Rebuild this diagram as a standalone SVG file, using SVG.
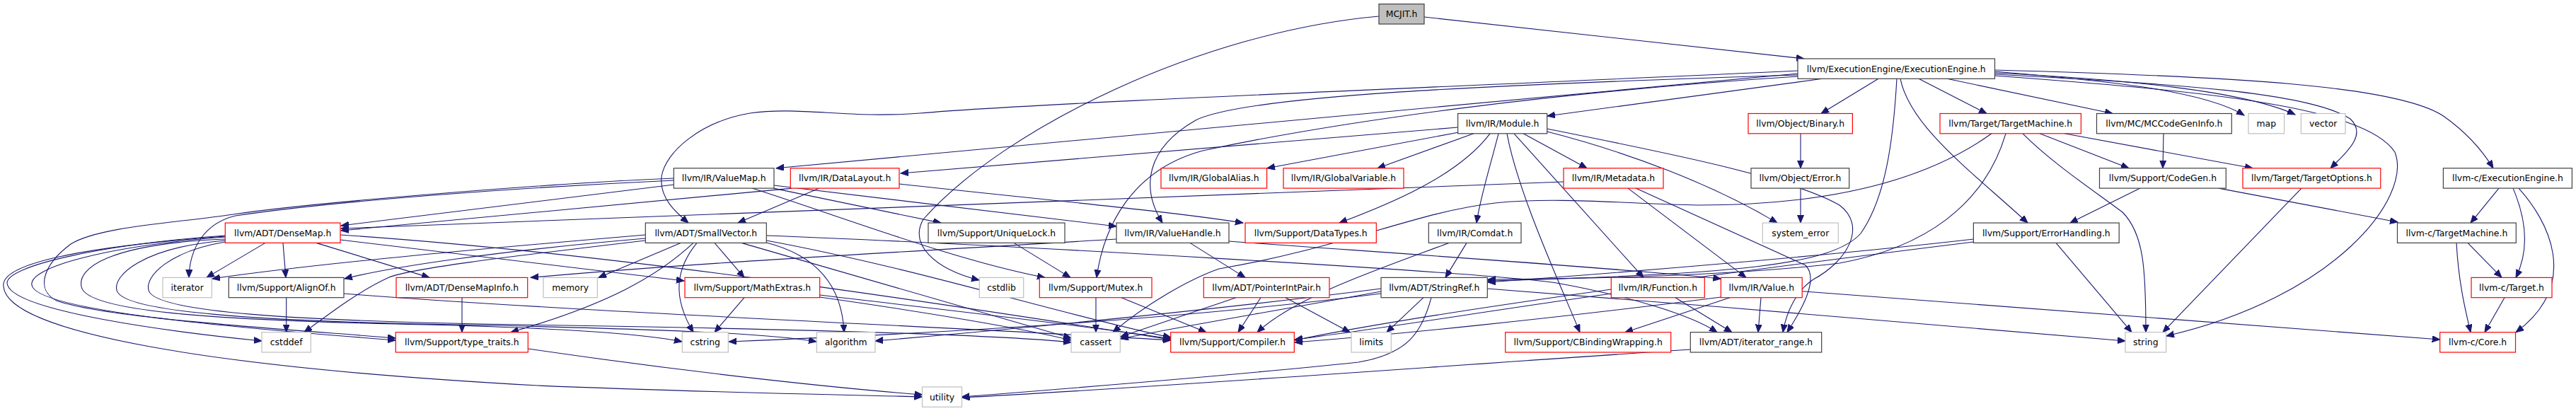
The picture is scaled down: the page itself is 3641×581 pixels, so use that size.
<svg xmlns="http://www.w3.org/2000/svg" width="3641" height="581" viewBox="0 0 3641 581">
<style>
rect{fill:#fff;stroke:#404040;stroke-width:1.2}
.r rect{stroke:#ff0000}
.g rect{stroke:#bfbfbf}
.root rect{fill:#bfbfbf}
text{font-family:"DejaVu Sans",sans-serif;font-size:12.4px;text-anchor:middle;fill:#000}
#edges path{fill:none;stroke:#191970;stroke-width:1.1;marker-end:url(#a)}
</style>
<defs>
<marker id="a" markerUnits="userSpaceOnUse" markerWidth="12" markerHeight="10" refX="11" refY="4.5" orient="auto"><path d="M0,0 L11,4.5 L0,9 z" fill="#191970" stroke="#191970" stroke-width="1"/></marker>
</defs>
<rect x="0" y="0" width="3641" height="581" style="fill:#fff;stroke:none"/>
<g id="edges">
<path d="M2013,24 L2550,83"/>
<path d="M1949,23 C1700,45 1420,180 1305,310 C1285,345 1320,380 1384,396"/>
<path d="M2541,104 L1097,237.8"/>
<path d="M2541,100 C2000,125 1480,145 1300,160 C1200,168 1130,150 1060,160 C990,172 940,215 935,250 C932,280 955,300 973,315.1"/>
<path d="M2576,111.3 L2187,164"/>
<path d="M2541,106 C2100,120 1760,135 1690,170 C1620,210 1612,265 1643,315.1"/>
<path d="M2541,108 C2200,130 1900,170 1700,213 C1600,240 1560,320 1550,392.4"/>
<path d="M2655,111.3 L2574,160.5"/>
<path d="M2712,111.3 L2808,160.5"/>
<path d="M2752,111.3 L2986,160.5"/>
<path d="M2819.5,101 C2950,112 3110,125 3172,163"/>
<path d="M2819.5,103 C3000,112 3170,128 3244,162"/>
<path d="M2819.5,105 C3050,118 3260,128 3322,168 C3345,190 3320,212 3294,237.8"/>
<path d="M2819.5,99 C3150,108 3390,120 3455,165 C3490,190 3510,215 3524,237.8"/>
<path d="M2819.5,107 C3100,128 3340,148 3385,215 C3410,280 3300,420 3062,475"/>
<path d="M2686,111.3 C2700,180 2790,245 2866,315.1"/>
<path d="M2681,111.3 C2676,200 2665,280 2630,330 C2590,375 2450,388 2103,397"/>
<path d="M2060.6,180 L1273,245"/>
<path d="M2062,187 L1791,237.8"/>
<path d="M2083,188.8 L1947,237.8"/>
<path d="M2153,188.8 L2243,237.8"/>
<path d="M2106,188.8 C2060,250 1960,290 1893,315.1"/>
<path d="M2118,188.8 C2105,240 2092,280 2087,315.1"/>
<path d="M2130,188.8 C2145,270 2200,390 2233,469.7"/>
<path d="M2140,188.8 L2323,392.4"/>
<path d="M2186.7,186 C2300,215 2420,260 2512,315.1"/>
<path d="M2186.7,182 C2350,215 2530,250 2600,290 C2640,320 2610,370 2563,395 C2540,410 2525,440 2520,469.7"/>
<path d="M2210,257 L482,323"/>
<path d="M2301,266.1 L2468,392.4"/>
<path d="M2312,266.1 L2552,375 C2572,395 2545,440 2526,469.7"/>
<path d="M952.3,261 L482,319"/>
<path d="M952.3,255 C800,262 500,280 333,305 C290,315 268,350 267,392.4"/>
<path d="M952.3,252 C800,258 450,285 330,303 C250,315 140,320 100,345 C60,375 50,410 80,425 C150,450 400,465 559,478"/>
<path d="M1063,266.1 C1200,310 1350,368 1477,392.4"/>
<path d="M1093,266.1 L1330,315.1"/>
<path d="M1094,262 C1300,288 1450,305 1578,320"/>
<path d="M1120,266.1 L482,326"/>
<path d="M1158,266.1 L1043,315.1"/>
<path d="M1271,260 C1450,280 1650,298 1757,315.1"/>
<path d="M2545,188.8 L2545,237.8"/>
<path d="M2883,188.8 L3009,237.8"/>
<path d="M2918,188.8 L3184,237.8"/>
<path d="M2859,188.8 C2900,230 2960,270 3000,300 C3030,330 3033,380 3033,469.7"/>
<path d="M2835,188.8 C2805,290 2720,350 2600,372 C2450,390 2250,394 2103,395"/>
<path d="M2815,188.8 C2730,250 2600,290 2400,290 C2300,288 2200,278 2113,287 C2000,300 1900,350 1723,380 C1680,395 1620,430 1573,469.7"/>
<path d="M3058,188.8 L3057,237.8"/>
<path d="M2545,266.1 L2545,315.1"/>
<path d="M3025,266.1 L2926,315.1"/>
<path d="M3136,266.1 L3389,314"/>
<path d="M3253,266.1 L3057,469.7"/>
<path d="M3532,266.1 L3492,315.1"/>
<path d="M3552,266.1 C3575,320 3572,360 3556,392.4"/>
<path d="M3560,266.1 C3600,310 3650,400 3556,469.7"/>
<path d="M3488,343.4 L3536,392.4"/>
<path d="M3472,343.4 C3475,400 3485,440 3492,469.7"/>
<path d="M3540,420.7 L3512,469.7"/>
<path d="M375,343.4 L292,392.4"/>
<path d="M400,343.4 L404,392.4"/>
<path d="M447,343.4 L607,392.4"/>
<path d="M481,339 L967,397"/>
<path d="M481,332 C900,360 1400,440 1655,480"/>
<path d="M318.3,333 C150,345 10,375 10,400 C12,440 250,470 370,482"/>
<path d="M318.3,335 C150,348 40,378 45,403 C50,440 350,465 559,481"/>
<path d="M318.3,338 C150,345 110,380 115,405 C120,440 300,452 560,458 C750,462 900,470 964,483"/>
<path d="M318.3,340 C200,350 160,390 165,410 C170,440 350,455 700,460 C900,465 1080,470 1154,483"/>
<path d="M318.3,342 C240,355 205,390 210,410 C215,440 400,455 800,460 C1100,465 1400,472 1514,484"/>
<path d="M318.3,334 C100,350 0,375 5,405 C10,470 300,520 760,545 C1000,555 1200,558 1303.5,561"/>
<path d="M912.3,332 C700,350 450,372 300,394"/>
<path d="M912.3,337 C700,355 550,378 487,394"/>
<path d="M962,343.4 L846,392.4"/>
<path d="M980,343.4 C930,390 860,430 722,469.7"/>
<path d="M912.3,340 C700,365 580,380 550,392 C510,410 470,440 430,469.7"/>
<path d="M985,343.4 C955,380 950,420 980,469.7"/>
<path d="M1010,343.4 L1052,392.4"/>
<path d="M1083.3,343 C1150,360 1190,400 1193,469.7"/>
<path d="M1048,343.4 L1514,478"/>
<path d="M1083.3,340 C1300,380 1500,445 1655,477"/>
<path d="M1083.3,333 C1400,345 2100,385 2200,400 C2300,418 2390,445 2427,469.7"/>
<path d="M1433,343.4 L1513,392.4"/>
<path d="M1578,338 C1300,355 1000,370 750,392.4"/>
<path d="M1682,343.4 L1760,392.4"/>
<path d="M1737,341 C2000,360 2300,380 2432.4,394"/>
<path d="M2073,343.4 L2043,392.4"/>
<path d="M2048,343.4 C1950,380 1830,420 1777,469.7"/>
<path d="M2789.4,338 C2600,360 2300,385 2103,399"/>
<path d="M2789.4,342 C2400,390 2000,445 1830,481"/>
<path d="M2906,343.4 L3013,469.7"/>
<path d="M404.7,420.7 L404.7,469.7"/>
<path d="M486,415 C800,440 1300,460 1655,481"/>
<path d="M653,420.7 L653,469.7"/>
<path d="M1052,420.7 L1010,469.7"/>
<path d="M1158.7,417 C1350,440 1550,462 1655,479"/>
<path d="M1158.7,420 C1300,440 1450,465 1514,481"/>
<path d="M1549,420.7 L1549,469.7"/>
<path d="M1585,420.7 L1705,469.7"/>
<path d="M1747,420.7 L1584,476"/>
<path d="M1782,420.7 L1750,469.7"/>
<path d="M1817,420.7 L1908,469.7"/>
<path d="M2012,420.7 L1960,469.7"/>
<path d="M2023,420.7 C2010,470 1990,500 1920,512 C1750,530 1500,550 1359.5,561"/>
<path d="M1952,412 C1800,440 1650,465 1584,479"/>
<path d="M1952,408 C1700,440 1400,468 1237,482"/>
<path d="M1952,415 C1600,460 1200,476 1030,483"/>
<path d="M2102.3,408 C2400,430 2800,465 3004,482"/>
<path d="M2368,420.7 L2448,469.7"/>
<path d="M2277.3,415 C2100,440 1950,465 1830,480"/>
<path d="M2489,420.7 L2485,469.7"/>
<path d="M2445,420.7 L2297,469.7"/>
<path d="M2432.4,420 C2200,450 1950,475 1830,484"/>
<path d="M2547.2,411.7 L3448.7,480"/>
<path d="M746.3,493 C1000,530 1200,550 1303.5,558"/>
<path d="M2389.3,494 C2000,520 1600,550 1359.5,562"/>
</g>
<g id="mcjit" class="root"><rect x="1949" y="5.7" width="64" height="28.3"/><text x="1981" y="24.3">MCJIT.h</text></g>
<g id="ee"><rect x="2541" y="83" width="278.5" height="28.3"/><text x="2680.2" y="101.6">llvm/ExecutionEngine/ExecutionEngine.h</text></g>
<g id="module"><rect x="2060.6" y="160.5" width="126.1" height="28.3"/><text x="2123.6" y="179.1">llvm/IR/Module.h</text></g>
<g id="binary" class="r"><rect x="2471" y="160.5" width="147.4" height="28.3"/><text x="2544.7" y="179.1">llvm/Object/Binary.h</text></g>
<g id="targetmachine" class="r"><rect x="2742" y="160.5" width="199.4" height="28.3"/><text x="2841.7" y="179.1">llvm/Target/TargetMachine.h</text></g>
<g id="mccodegeninfo"><rect x="2963.5" y="160.5" width="190.8" height="28.3"/><text x="3058.9" y="179.1">llvm/MC/MCCodeGenInfo.h</text></g>
<g id="map" class="g"><rect x="3178" y="160.5" width="50.6" height="28.3"/><text x="3203.3" y="179.1">map</text></g>
<g id="vector" class="g"><rect x="3252.4" y="160.5" width="62.6" height="28.3"/><text x="3283.7" y="179.1">vector</text></g>
<g id="valuemap"><rect x="952.3" y="237.8" width="141.7" height="28.3"/><text x="1023.2" y="256.4">llvm/IR/ValueMap.h</text></g>
<g id="datalayout" class="r"><rect x="1117.3" y="237.8" width="153.7" height="28.3"/><text x="1194.2" y="256.4">llvm/IR/DataLayout.h</text></g>
<g id="globalalias" class="r"><rect x="1641" y="237.8" width="149.6" height="28.3"/><text x="1715.8" y="256.4">llvm/IR/GlobalAlias.h</text></g>
<g id="globalvariable" class="r"><rect x="1814" y="237.8" width="170" height="28.3"/><text x="1899" y="256.4">llvm/IR/GlobalVariable.h</text></g>
<g id="metadata" class="r"><rect x="2210" y="237.8" width="141" height="28.3"/><text x="2280.5" y="256.4">llvm/IR/Metadata.h</text></g>
<g id="objecterror"><rect x="2475" y="237.8" width="138.7" height="28.3"/><text x="2544.4" y="256.4">llvm/Object/Error.h</text></g>
<g id="codegen"><rect x="2967.5" y="237.8" width="178.8" height="28.3"/><text x="3056.9" y="256.4">llvm/Support/CodeGen.h</text></g>
<g id="targetoptions" class="r"><rect x="3170" y="237.8" width="194.8" height="28.3"/><text x="3267.4" y="256.4">llvm/Target/TargetOptions.h</text></g>
<g id="c_executionengine"><rect x="3453.4" y="237.8" width="182" height="28.3"/><text x="3544.4" y="256.4">llvm-c/ExecutionEngine.h</text></g>
<g id="densemap" class="r"><rect x="318.3" y="315.1" width="162.7" height="28.3"/><text x="399.7" y="333.7">llvm/ADT/DenseMap.h</text></g>
<g id="smallvector"><rect x="912.3" y="315.1" width="171" height="28.3"/><text x="997.8" y="333.7">llvm/ADT/SmallVector.h</text></g>
<g id="uniquelock"><rect x="1312" y="315.1" width="193" height="28.3"/><text x="1408.5" y="333.7">llvm/Support/UniqueLock.h</text></g>
<g id="valuehandle"><rect x="1578" y="315.1" width="159" height="28.3"/><text x="1657.5" y="333.7">llvm/IR/ValueHandle.h</text></g>
<g id="datatypes" class="r"><rect x="1760" y="315.1" width="185.3" height="28.3"/><text x="1852.7" y="333.7">llvm/Support/DataTypes.h</text></g>
<g id="comdat"><rect x="2019.3" y="315.1" width="130.7" height="28.3"/><text x="2084.7" y="333.7">llvm/IR/Comdat.h</text></g>
<g id="system_error" class="g"><rect x="2491.3" y="315.1" width="107" height="28.3"/><text x="2544.8" y="333.7">system_error</text></g>
<g id="errorhandling"><rect x="2789.4" y="315.1" width="205.8" height="28.3"/><text x="2892.3" y="333.7">llvm/Support/ErrorHandling.h</text></g>
<g id="c_targetmachine"><rect x="3388.5" y="315.1" width="167.8" height="28.3"/><text x="3472.4" y="333.7">llvm-c/TargetMachine.h</text></g>
<g id="iterator" class="g"><rect x="230" y="392.4" width="69.3" height="28.3"/><text x="264.7" y="411">iterator</text></g>
<g id="alignof"><rect x="323.3" y="392.4" width="162.7" height="28.3"/><text x="404.7" y="411">llvm/Support/AlignOf.h</text></g>
<g id="densemapinfo" class="r"><rect x="560" y="392.4" width="185.7" height="28.3"/><text x="652.9" y="411">llvm/ADT/DenseMapInfo.h</text></g>
<g id="memory" class="g"><rect x="768" y="392.4" width="76.3" height="28.3"/><text x="806.2" y="411">memory</text></g>
<g id="mathextras" class="r"><rect x="968" y="392.4" width="190.7" height="28.3"/><text x="1063.4" y="411">llvm/Support/MathExtras.h</text></g>
<g id="cstdlib" class="g"><rect x="1384.3" y="392.4" width="62.4" height="28.3"/><text x="1415.5" y="411">cstdlib</text></g>
<g id="mutex" class="r"><rect x="1469.3" y="392.4" width="158.7" height="28.3"/><text x="1548.7" y="411">llvm/Support/Mutex.h</text></g>
<g id="pointerintpair" class="r"><rect x="1701.3" y="392.4" width="177.7" height="28.3"/><text x="1790.2" y="411">llvm/ADT/PointerIntPair.h</text></g>
<g id="stringref"><rect x="1952" y="392.4" width="150.3" height="28.3"/><text x="2027.2" y="411">llvm/ADT/StringRef.h</text></g>
<g id="function" class="r"><rect x="2277.3" y="392.4" width="132" height="28.3"/><text x="2343.3" y="411">llvm/IR/Function.h</text></g>
<g id="value" class="r"><rect x="2432.4" y="392.4" width="114.8" height="28.3"/><text x="2489.8" y="411">llvm/IR/Value.h</text></g>
<g id="c_target" class="r"><rect x="3493" y="392.4" width="114" height="28.3"/><text x="3550" y="411">llvm-c/Target.h</text></g>
<g id="cstddef" class="g"><rect x="370" y="469.7" width="69.3" height="28.3"/><text x="404.7" y="488.3">cstddef</text></g>
<g id="type_traits" class="r"><rect x="559.3" y="469.7" width="187" height="28.3"/><text x="652.8" y="488.3">llvm/Support/type_traits.h</text></g>
<g id="cstring" class="g"><rect x="964.3" y="469.7" width="65" height="28.3"/><text x="996.8" y="488.3">cstring</text></g>
<g id="algorithm" class="g"><rect x="1154.3" y="469.7" width="82.7" height="28.3"/><text x="1195.7" y="488.3">algorithm</text></g>
<g id="cassert" class="g"><rect x="1514" y="469.7" width="69.3" height="28.3"/><text x="1548.7" y="488.3">cassert</text></g>
<g id="compiler" class="r"><rect x="1654.7" y="469.7" width="174.6" height="28.3"/><text x="1742" y="488.3">llvm/Support/Compiler.h</text></g>
<g id="limits" class="g"><rect x="1910" y="469.7" width="56.3" height="28.3"/><text x="1938.2" y="488.3">limits</text></g>
<g id="cbindingwrapping" class="r"><rect x="2127.7" y="469.7" width="234" height="28.3"/><text x="2244.7" y="488.3">llvm/Support/CBindingWrapping.h</text></g>
<g id="iterator_range"><rect x="2389.3" y="469.7" width="185.4" height="28.3"/><text x="2482" y="488.3">llvm/ADT/iterator_range.h</text></g>
<g id="string" class="g"><rect x="3004" y="469.7" width="57.6" height="28.3"/><text x="3032.8" y="488.3">string</text></g>
<g id="c_core" class="r"><rect x="3448.7" y="469.7" width="106.8" height="28.3"/><text x="3502.1" y="488.3">llvm-c/Core.h</text></g>
<g id="utility" class="g"><rect x="1303.5" y="547" width="56" height="28.3"/><text x="1331.5" y="565.6">utility</text></g>
</svg>
